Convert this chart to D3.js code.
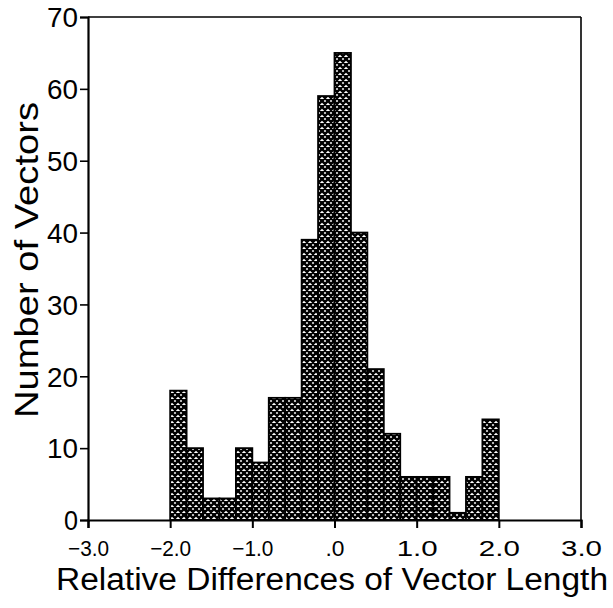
<!DOCTYPE html>
<html>
<head>
<meta charset="utf-8">
<script src="https://cdn.jsdelivr.net/npm/d3@7"></script>
<style>
  body { margin: 0; background: #fff; }
  text { font-family: "Liberation Sans", Arial, sans-serif; fill: #000; }
</style>
</head>
<body>
<svg id="chart" width="613" height="608"></svg>
<script>
// histogram bins (lower edge) and counts
const binStarts = [-2.0, -1.8, -1.6, -1.4, -1.2, -1.0, -0.8, -0.6, -0.4, -0.2,
                   0.0, 0.2, 0.4, 0.6, 0.8, 1.0, 1.2, 1.4, 1.6, 1.8];
const counts = [18, 10, 3, 3, 10, 8, 17, 17, 39, 59,
                65, 40, 21, 12, 6, 6, 6, 1, 6, 14];
const binWidth = 0.2;
const xTicks = [-3, -2, -1, 0, 1, 2, 3];
const xTickLabels = ["\u22123.0", "\u22122.0", "\u22121.0", ".0", "1.0", "2.0", "3.0"];
const yTicks = [0, 10, 20, 30, 40, 50, 60, 70];

const svg = d3.select("#chart");
const margin = { top: 17, right: 32, bottom: 88, left: 88 };
const width = 613 - margin.left - margin.right;
const height = 608 - margin.top - margin.bottom;

// cross-hatch fill
const t = 6;
const pat = svg.append("defs").append("pattern")
  .attr("id", "hatch")
  .attr("patternUnits", "userSpaceOnUse")
  .attr("width", t)
  .attr("height", t);
pat.append("rect").attr("width", t).attr("height", t).attr("fill", "#fff");
pat.append("path")
  .attr("d", `M0,0L${t},${t}M${t},0L0,${t}M-1,${t-1}L1,${t+1}M${t-1},-1L${t+1},1M${t-1},${t+1}L${t+1},${t-1}M-1,1L1,-1`)
  .attr("stroke", "#000")
  .attr("stroke-width", 2.5);

const x = d3.scaleLinear().domain([-3, 3]).range([0, width]);
const y = d3.scaleLinear().domain([0, 70]).range([height, 0]);

const g = svg.append("g")
  .attr("transform", `translate(${margin.left},${margin.top})`);

// bars
g.selectAll("rect.bar")
  .data(binStarts)
  .enter().append("rect")
  .attr("class", "bar")
  .attr("x", d => x(d))
  .attr("y", (d, i) => y(counts[i]))
  .attr("width", d => x(d + binWidth) - x(d))
  .attr("height", (d, i) => y(0) - y(counts[i]))
  .attr("fill", "url(#hatch)")
  .attr("stroke", "#000")
  .attr("stroke-width", 1.8);

// frame top and right
g.append("line")
  .attr("x1", 0).attr("x2", width).attr("y1", 0).attr("y2", 0)
  .attr("stroke", "#000").attr("stroke-width", 1.4);
g.append("line")
  .attr("x1", width).attr("x2", width).attr("y1", 0).attr("y2", height)
  .attr("stroke", "#000").attr("stroke-width", 1.6);

// x axis
const xAxis = g.append("g")
  .attr("transform", `translate(0,${height})`)
  .call(d3.axisBottom(x).tickValues(xTicks).tickSize(8).tickPadding(6)
    .tickFormat((d, i) => xTickLabels[i]));
xAxis.select(".domain").attr("stroke-width", 2.2);
xAxis.selectAll(".tick line").attr("stroke-width", 2);
xAxis.selectAll("text")
  .attr("font-size", 22)
  .attr("font-family", null)
  .attr("dy", null)
  .attr("y", 36)
  .attr("textLength", d => d === 0 ? 19 : 41)
  .attr("lengthAdjust", "spacingAndGlyphs");

// y axis
const yAxis = g.append("g")
  .call(d3.axisLeft(y).tickValues(yTicks).tickSize(8).tickPadding(2)
    .tickFormat(d3.format("d")));
yAxis.select(".domain").attr("stroke-width", 2.2);
yAxis.selectAll(".tick line").attr("stroke-width", 1.6);
yAxis.selectAll("text")
  .attr("font-size", 27)
  .attr("font-family", null)
  .attr("dy", "0.36em")
  .attr("textLength", d => d === 0 ? 14 : 31)
  .attr("lengthAdjust", "spacingAndGlyphs");

// axis titles
svg.append("text")
  .attr("x", 332)
  .attr("y", 590)
  .attr("text-anchor", "middle")
  .attr("font-size", 31)
  .attr("textLength", 552)
  .attr("lengthAdjust", "spacingAndGlyphs")
  .text("Relative Differences of Vector Length");

svg.append("text")
  .attr("transform", "translate(38,260) rotate(-90)")
  .attr("text-anchor", "middle")
  .attr("font-size", 34)
  .attr("textLength", 316)
  .attr("lengthAdjust", "spacingAndGlyphs")
  .text("Number of Vectors");
</script>
</body>
</html>
